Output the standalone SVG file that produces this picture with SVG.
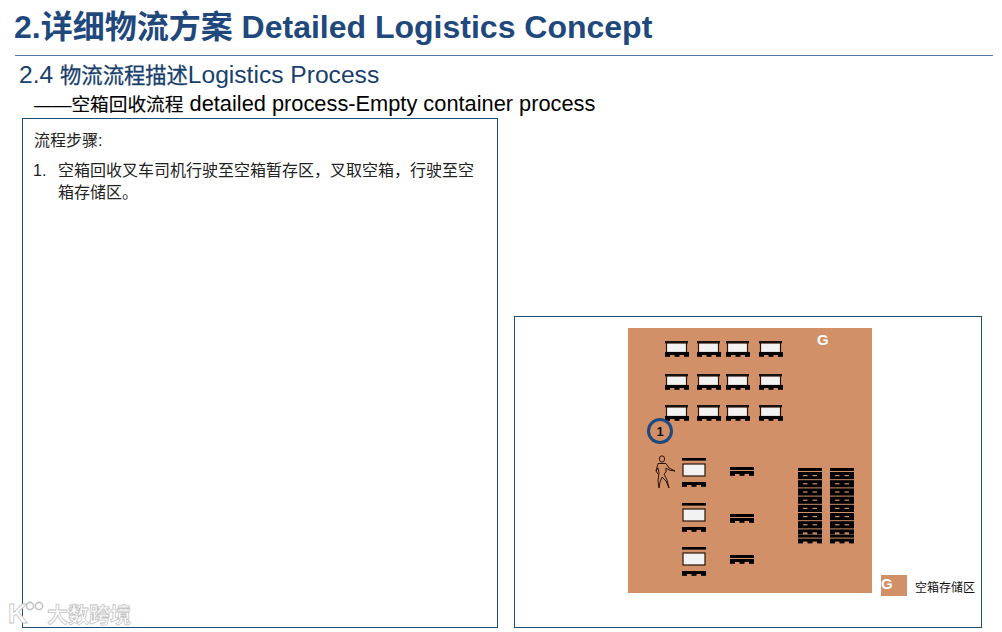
<svg xmlns="http://www.w3.org/2000/svg" width="1002" height="632" viewBox="0 0 1002 632">
<style>
text{font-family:"Liberation Sans","Noto Sans CJK SC",sans-serif}
.panel{fill:#fff;stroke:#1f4e79;stroke-width:1}
.title{font-size:32px;font-weight:bold;fill:#1f497d}
.sub{font-size:24.6px;fill:#17406d}
.sub .cjk{font-size:21.3px;stroke:#17406d;stroke-width:.3}
.sub2{font-size:21.8px;fill:#000}
.sub2 .cjk{font-size:18.7px;stroke:#000;stroke-width:.15}
.body{font-size:16px;fill:#222}
.g{font-size:15px;font-weight:bold;fill:#fff}
.box{fill:#f2f2f2;stroke:#2a1408;stroke-width:1.2}
</style>
<defs>
<g id="base"><rect x="0" y="0" width="24" height="3" fill="#000"/><rect x="0" y="2" width="5" height="2.8" fill="#000"/><rect x="9.5" y="2" width="5" height="2.8" fill="#000"/><rect x="19" y="2" width="5" height="2.8" fill="#000"/></g>
<g id="pallet"><rect x="0" y="0" width="24" height="3" fill="#000"/><use href="#base" y="4"/></g>
<g id="loaded"><rect x="0" y="0" width="23" height="2.4" fill="#111"/><rect x="1.5" y="2" width="20" height="9.5" class="box"/><use href="#base" y="11"/></g>
<g id="unit"><rect x="0" y="0" width="24" height="2.6" fill="#000"/><rect x="1" y="6" width="22" height="12" class="box"/><use href="#base" y="24"/></g>
</defs>
<rect width="1002" height="632" fill="#fff"/>
<text class="title" x="14" y="38">2.详细物流方案 Detailed Logistics Concept</text>
<line x1="15" y1="55.5" x2="993" y2="55.5" stroke="#4f78a8" stroke-width="1"/>
<text class="sub" x="19" y="83">2.4 <tspan class="cjk">物流流程描述</tspan>Logistics Process</text>
<text class="sub2" x="34" y="111"><tspan class="cjk">——空箱回收流程</tspan> detailed process-Empty container process</text>

<g id="steps-panel">
<rect class="panel" x="22.5" y="118.5" width="475" height="509"/>
<text class="body" x="34" y="146">流程步骤:</text>
<text class="body" x="33" y="176">1.</text>
<text class="body" x="58" y="176">空箱回收叉车司机行驶至空箱暂存区，叉取空箱，行驶至空</text>
<text class="body" x="58" y="198">箱存储区。</text>
</g>

<g id="map-panel">
<rect class="panel" x="514.5" y="316.5" width="467" height="311"/>
</g>

<g id="zone-g">
<rect x="628" y="328" width="244" height="265" fill="#d29069"/>
<text class="g" x="817" y="345">G</text>
</g>

<g id="containers">
<use href="#loaded" x="665" y="341"/><use href="#loaded" x="697" y="341"/><use href="#loaded" x="726" y="341"/><use href="#loaded" x="759" y="341"/>
<use href="#loaded" x="665" y="374"/><use href="#loaded" x="697" y="374"/><use href="#loaded" x="726" y="374"/><use href="#loaded" x="759" y="374"/>
<use href="#loaded" x="665" y="405"/><use href="#loaded" x="697" y="405"/><use href="#loaded" x="726" y="405"/><use href="#loaded" x="759" y="405"/>
</g>

<g id="step-1">
<circle cx="660" cy="431" r="11.5" fill="#d29069" stroke="#1f497d" stroke-width="3"/>
<text x="660" y="435.5" text-anchor="middle" font-size="13" font-weight="bold" fill="#111">1</text>
</g>

<g id="operator" fill="none" stroke="#2a1408" stroke-width="1">
<ellipse cx="662" cy="459" rx="2.6" ry="3.2"/>
<path d="M658 463.5 L666 463.5 L669 468 L675 471 L669 470 L666 468 L666 472 L664 474 L667 480 L669 488 L666 481 L662 477 L660 482 L659 488 L658 481 L659 473 L658 468 L656 471 L658 474 M658 463.5 L656 471"/>
</g>

<g id="work-row-1">
<use href="#unit" x="682" y="458"/><use href="#pallet" x="730" y="467"/>
</g>
<g id="work-row-2">
<use href="#unit" x="682" y="503"/><use href="#pallet" x="730" y="514"/>
</g>
<g id="work-row-3">
<use href="#unit" x="682" y="547"/><use href="#pallet" x="730" y="555"/>
</g>

<g id="stack-1">
<use href="#pallet" x="798" y="468"/><use href="#pallet" x="798" y="476.2"/><use href="#pallet" x="798" y="484.4"/><use href="#pallet" x="798" y="492.6"/><use href="#pallet" x="798" y="500.8"/><use href="#pallet" x="798" y="509"/><use href="#pallet" x="798" y="517.2"/><use href="#pallet" x="798" y="525.4"/><use href="#pallet" x="798" y="534.6"/>
</g>
<g id="stack-2">
<use href="#pallet" x="830" y="468"/><use href="#pallet" x="830" y="476.2"/><use href="#pallet" x="830" y="484.4"/><use href="#pallet" x="830" y="492.6"/><use href="#pallet" x="830" y="500.8"/><use href="#pallet" x="830" y="509"/><use href="#pallet" x="830" y="517.2"/><use href="#pallet" x="830" y="525.4"/><use href="#pallet" x="830" y="534.6"/>
</g>

<g id="legend">
<rect x="881" y="575" width="26" height="21" fill="#d29069"/>
<text class="g" x="881" y="589">G</text>
<text x="915" y="592" font-size="12" fill="#111">空箱存储区</text>
</g>

<g id="watermark" fill="#fff" stroke="#c4c4c4" stroke-width="0.8">
<text x="8" y="623" font-size="27" font-weight="bold">K</text>
<circle cx="30" cy="606" r="3.6" fill="none" stroke-width="1.6"/>
<circle cx="39" cy="606" r="3.6" fill="none" stroke-width="1.6"/>
<text x="47" y="622" font-size="21" font-weight="bold">大数跨境</text>
</g>
</svg>
